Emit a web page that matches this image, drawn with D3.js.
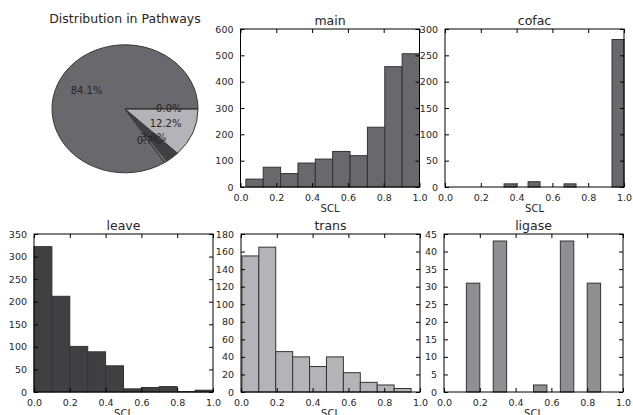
<!DOCTYPE html>
<html>
<head>
<meta charset="utf-8"/>
<script src="https://d3js.org/d3.v7.min.js"></script>
<style>
	body { margin: 0; background: #fff; }
	svg { display: block; font-family: 'DejaVu Sans', sans-serif; }
	.tick text { fill: #262626; }
</style>
</head>
<body>
<div id="chart"></div>
<script>
// pie: share of each pathway
var pieNames = ['main', 'cofac', 'leave', 'trans', 'ligase'];
var pieShares = [84.1, 0.7, 3.0, 12.2, 0.0];

// histograms: 10 bins between first and last edge
var panels = ['main', 'cofac', 'leave', 'trans', 'ligase'];
var binLo = [0.03, 0.33, 0.0, 0.005, 0.125];
var binHi = [1.0, 1.0, 1.0, 0.95, 0.875];
var mainCounts = [30, 75, 51, 91, 106, 135, 119, 227, 457, 506];
var cofacCounts = [6, 0, 10, 0, 0, 6, 0, 0, 0, 280];
var leaveCounts = [322, 212, 101, 89, 58, 7, 10, 12, 1, 4];
var transCounts = [155, 165, 46, 40, 29, 40, 22, 11, 8, 4];
var ligaseCounts = [31, 0, 43, 0, 0, 2, 0, 43, 0, 31];
var counts = [mainCounts, cofacCounts, leaveCounts, transCounts, ligaseCounts];
var yMax = [600, 300, 350, 180, 45];
var yStep = [100, 50, 50, 20, 5];
var xTicks = [0, 0.2, 0.4, 0.6, 0.8, 1.0];

var colors = {main: '#69696d', cofac: '#69696d', leave: '#404042', trans: '#b4b4b8', ligase: '#8f8f93'};

var W = 633, H = 415;
var svg = d3.select('#chart').append('svg').attr('width', W).attr('height', H);

// ---- pie (matplotlib style: starts at 3 o'clock, counterclockwise, stretched) ----
var cx = 125, cy = 108.8, rx = 73, ry = 64;
var pie = d3.pie().sort(null).startAngle(Math.PI / 2).endAngle(Math.PI / 2 - 2 * Math.PI);
var arcs = pie(pieShares);
var arc = d3.arc().innerRadius(0).outerRadius(1);
var pg = svg.append('g');
pg.selectAll('path').data(arcs).enter().append('path')
	.attr('d', arc)
	.attr('transform', 'translate(' + cx + ',' + cy + ') scale(' + rx + ',' + ry + ')')
	.attr('fill', function(d, i) { return colors[pieNames[i]]; })
	.attr('stroke', '#383838')
	.attr('stroke-width', 1)
	.attr('vector-effect', 'non-scaling-stroke');
pg.selectAll('text').data(arcs).enter().append('text')
	.attr('x', function(d) { var a = (d.startAngle + d.endAngle) / 2; return cx + Math.sin(a) * 0.6 * rx; })
	.attr('y', function(d) { var a = (d.startAngle + d.endAngle) / 2; return cy - Math.cos(a) * 0.6 * ry; })
	.attr('text-anchor', 'middle')
	.attr('dominant-baseline', 'central')
	.attr('font-size', 10)
	.attr('fill', '#262626')
	.text(function(d, i) { return pieShares[i].toFixed(1) + '%'; });
svg.append('text').attr('x', 125).attr('y', 22.5).attr('text-anchor', 'middle')
	.attr('font-size', 12.5).attr('fill', '#262626').text('Distribution in Pathways');

// ---- histograms ----
var cellLeft = [240.5, 445, 34, 241, 444];
var cellTop = [29, 29, 234, 234, 234];
var pw = 179, ph = 158;

panels.forEach(function(name, p) {
	var g = svg.append('g').attr('transform', 'translate(' + cellLeft[p] + ',' + cellTop[p] + ')');
	var x = d3.scaleLinear().domain([0, 1]).range([0, pw]);
	var y = d3.scaleLinear().domain([0, yMax[p]]).range([ph, 0]);
	var bw = (binHi[p] - binLo[p]) / counts[p].length;

	counts[p].forEach(function(d, i) {
		if (d <= 0) return;
		g.append('rect')
			.attr('x', x(binLo[p] + i * bw))
			.attr('width', x(bw) - x(0))
			.attr('y', y(d))
			.attr('height', y(0) - y(d))
			.attr('fill', colors[name])
			.attr('stroke', '#333')
			.attr('stroke-width', 1);
	});

	var yt = d3.range(0, yMax[p] + 0.001, yStep[p]);
	var ax = function(a) {
		a.selectAll('.domain').remove();
		a.selectAll('.tick line').attr('stroke', '#000');
	};
	g.append('g').attr('transform', 'translate(0,' + ph + ')')
		.call(d3.axisBottom(x).tickValues(xTicks).tickSize(-4).tickPadding(7).tickFormat(d3.format('.1f')))
		.attr('font-size', 9.5).attr('font-family', null).call(ax);
	g.append('g')
		.call(d3.axisTop(x).tickValues(xTicks).tickSize(-4).tickFormat(''))
		.call(ax);
	g.append('g')
		.call(d3.axisLeft(y).tickValues(yt).tickSize(-4).tickPadding(7).tickFormat(d3.format('d')))
		.attr('font-size', 9.5).attr('font-family', null).call(ax);
	g.append('g').attr('transform', 'translate(' + pw + ',0)')
		.call(d3.axisRight(y).tickValues(yt).tickSize(-4).tickFormat(''))
		.call(ax);

	g.append('rect').attr('width', pw).attr('height', ph)
		.attr('fill', 'none').attr('stroke', '#000').attr('stroke-width', 1);

	g.append('text').attr('x', pw / 2).attr('y', -4).attr('text-anchor', 'middle')
		.attr('font-size', 12.5).attr('fill', '#262626').text(name);
	g.append('text').attr('x', pw / 2).attr('y', ph + 24.5).attr('text-anchor', 'middle')
		.attr('font-size', 10).attr('fill', '#262626').text('SCL');
});
</script>
</body>
</html>
